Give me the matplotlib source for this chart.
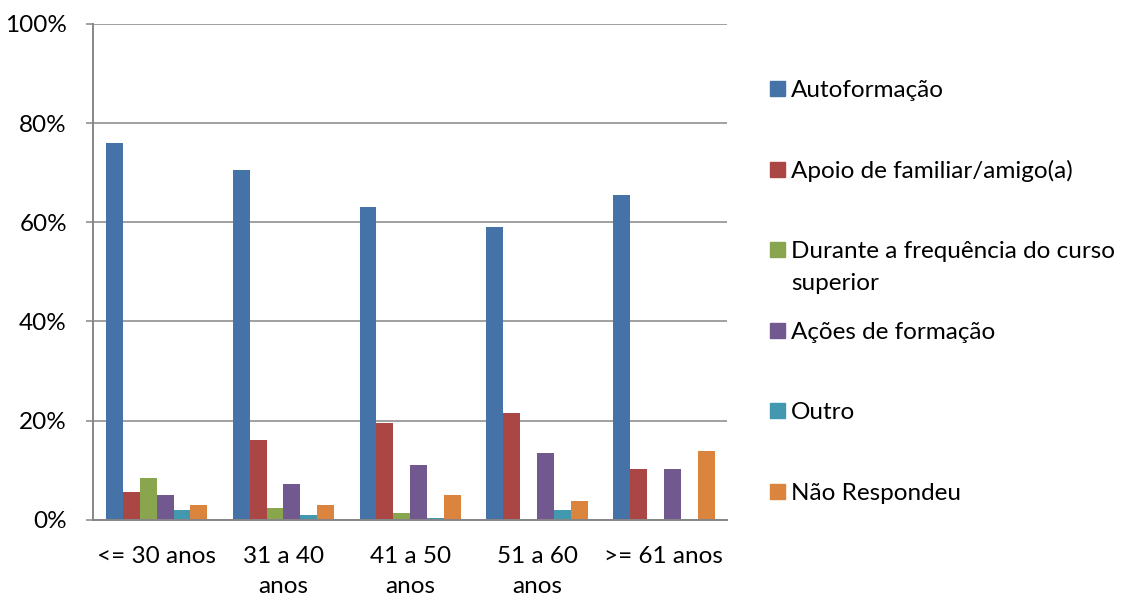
import matplotlib
matplotlib.use("Agg")
import matplotlib.pyplot as plt
from matplotlib.patches import Rectangle
import numpy as np

plt.rcParams['font.family'] = ['Lato', 'DejaVu Sans']

categories = ["<= 30 anos", "31 a 40\nanos", "41 a 50\nanos", "51 a 60\nanos", ">= 61 anos"]
series_names = ["Autoformação", "Apoio de familiar/amigo(a)",
                "Durante a frequência do curso\nsuperior", "Ações de formação",
                "Outro", "Não Respondeu"]
autoformacao = [76.0, 70.5, 63.0, 59.0, 65.5]
apoio_familiar = [5.5, 16.0, 19.5, 21.5, 10.3]
curso_superior = [8.5, 2.3, 1.3, 0.0, 0.0]
acoes_formacao = [5.0, 7.1, 11.0, 13.5, 10.3]
outro = [2.0, 0.9, 0.3, 1.9, 0.0]
nao_respondeu = [3.0, 2.9, 5.0, 3.8, 13.8]
yticks = [0, 20, 40, 60, 80, 100]
ytick_labels = ["0%", "20%", "40%", "60%", "80%", "100%"]

series = [autoformacao, apoio_familiar, curso_superior, acoes_formacao, outro, nao_respondeu]
colors = ["#4572A7", "#AA4643", "#89A54E", "#71588F", "#4198AF", "#DB843D"]
grid_color = "#868686"
font_size = 17.5

fig = plt.figure(figsize=(11.24, 5.98), dpi=100)
ax = fig.add_axes([0.083, 0.131, 0.564, 0.829])

n = len(series)
width = 0.8 / n
x = np.arange(len(categories))
for i, (vals, col) in enumerate(zip(series, colors)):
    ax.bar(x - 0.4 + width * (i + 0.5), vals, width=width, color=col,
           edgecolor="none", zorder=3)

ax.set_xlim(-0.5, len(categories) - 0.5)
ax.set_ylim(0, 100)
ax.set_yticks(yticks)
ax.set_yticklabels(ytick_labels, fontsize=font_size)
ax.set_xticks(x)
ax.set_xticklabels(categories, fontsize=font_size, linespacing=1.55)
ax.tick_params(axis='x', length=0, pad=19)
ax.tick_params(axis='y', length=5, width=1.1, color=grid_color, pad=14)
ax.yaxis.grid(True, color=grid_color, linewidth=1.1, zorder=0)
ax.set_axisbelow(True)
for s in ("top", "right"):
    ax.spines[s].set_visible(False)
for s in ("left", "bottom"):
    ax.spines[s].set_color(grid_color)
    ax.spines[s].set_linewidth(1.4)
    ax.spines[s].set_zorder(4)

# legend drawn at the right of the plot area
fig_w, fig_h = 1124, 598
first_baseline = 97
step = 80.6
line_gap = 32
for i, (name, col) in enumerate(zip(series_names, colors)):
    base = first_baseline + i * step
    fig.patches.append(Rectangle((770 / fig_w, 1 - (base - 1) / fig_h),
                                 15 / fig_w, 15 / fig_h,
                                 transform=fig.transFigure, color=col))
    for k, line in enumerate(name.split("\n")):
        fig.text(791 / fig_w, 1 - (base + k * line_gap) / fig_h, line,
                 fontsize=font_size, va='baseline', ha='left')

fig.savefig("out.png", dpi=100)
